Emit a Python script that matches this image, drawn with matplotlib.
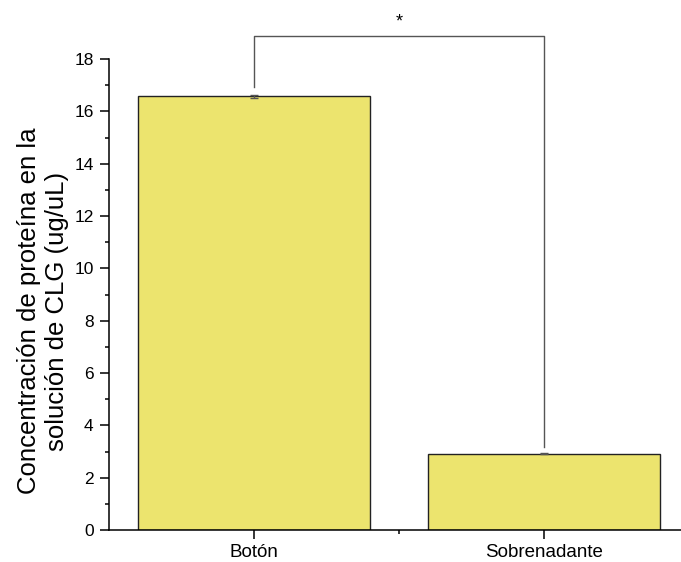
import matplotlib
matplotlib.use('Agg')
import matplotlib.pyplot as plt
from matplotlib.ticker import MultipleLocator, FixedLocator

plt.rcParams['font.family'] = ['Liberation Sans', 'DejaVu Sans']

categories = ['Botón', 'Sobrenadante']
means = [16.58, 2.92]
errors = [0.06, 0.01]

BAR_COLOR = '#ECE46E'

fig = plt.figure(figsize=(6.81, 5.62), dpi=100)
ax = fig.add_axes([0.1596, 0.0569, 0.852, 0.838])

x = list(range(len(categories)))
ax.bar(x, means, width=0.8, color=BAR_COLOR, edgecolor='#222222', linewidth=1.0, zorder=2)
ax.errorbar(x, means, yerr=errors, fmt='none', ecolor='#555555', elinewidth=1,
            capsize=3, capthick=1, zorder=3)

ax.set_xlim(-0.5, 1.5)
ax.set_ylim(0, 18)
ax.xaxis.set_major_locator(FixedLocator(x))
ax.xaxis.set_minor_locator(FixedLocator([0.5]))
ax.set_xticklabels(categories)
ax.yaxis.set_major_locator(MultipleLocator(2))
ax.yaxis.set_minor_locator(MultipleLocator(1))
ax.tick_params(axis='both', which='major', direction='out', length=6.3, width=1.1,
               labelsize=12.5, pad=4.5)
ax.tick_params(axis='both', which='minor', direction='out', length=3.2, width=1.1)
ax.tick_params(axis='x', which='major', labelsize=13.5, pad=4)

for side in ('top', 'right'):
    ax.spines[side].set_visible(False)
for side in ('left', 'bottom'):
    ax.spines[side].set_linewidth(1.1)

ax.set_ylabel('Concentración de proteína en la\nsolución de CLG (ug/uL)', fontsize=18.5)
ax.yaxis.set_label_coords(-0.068, 0.465)

# significance bracket
top = 18.88
ax.plot([0, 0, 1, 1], [16.93, top, top, 3.17], color='#555555', linewidth=1,
        clip_on=False, zorder=4)
ax.text(0.5, 19.1, '*', ha='center', va='bottom', fontsize=13, clip_on=False)

fig.savefig('out.png', dpi=100)
